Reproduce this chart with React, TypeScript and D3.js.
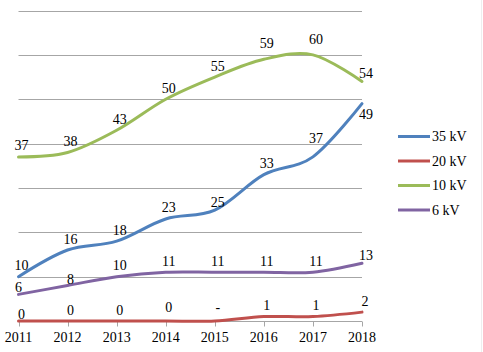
import { useRef, useEffect } from 'react';
import * as d3 from 'd3';

// data
const years = [2011, 2012, 2013, 2014, 2015, 2016, 2017, 2018];
const seriesNames = ['35 kV', '20 kV', '10 kV', '6 kV'];
const kv35 = [10, 16, 18, 23, 25, 33, 37, 49];
const kv20 = [0, 0, 0, 0, 0, 1, 1, 2];
const kv10 = [37, 38, 43, 50, 55, 59, 60, 54];
const kv6 = [6, 8, 10, 11, 11, 11, 11, 13];
const kv20Labels = ['0', '0', '0', '0', '-', '1', '1', '2'];
const yTicks = [0, 10, 20, 30, 40, 50, 60, 70];

const colors = ['#4F81BD', '#C0504D', '#9BBB59', '#8064A2'];

// hand-placed label nudges (dx, dy) like in the source sheet
const labelNudge: Record<string, [number, number]> = {
  '0-6': [0, -7],
  '0-7': [1, 22],
  '0-4': [0, 3],
  '1-0': [0, 4],
  '1-3': [0, -3],
  '1-4': [0, -3],
  '2-5': [0, -5],
  '2-6': [0, -4],
  '2-7': [1, 3],
  '3-0': [-3, 4],
  '3-1': [0, 5],
  '3-7': [1, 3],
};

const W = 483;
const H = 352;
const FONT = "'Liberation Serif', 'Times New Roman', serif";

export default function App() {
  const svgRef = useRef<SVGSVGElement>(null);

  useEffect(() => {
    if (!svgRef.current) return;
    const svg = d3.select(svgRef.current);
    svg.selectAll('*').remove();

    const margin = { top: 10.5, left: 18.5, right: 121, bottom: 31 };
    const x = d3.scaleLinear()
      .domain([years[0], years[years.length - 1]])
      .range([margin.left, W - margin.right]);
    const y = d3.scaleLinear()
      .domain([0, 70])
      .range([H - margin.bottom, margin.top]);

    // right border of chart area
    svg.append('line')
      .attr('x1', 481.5).attr('x2', 481.5)
      .attr('y1', 0).attr('y2', H)
      .attr('stroke', '#EEEEEE');

    // gridlines
    svg.append('g')
      .selectAll('line')
      .data(yTicks.slice(1))
      .join('line')
      .attr('x1', x(years[0]))
      .attr('x2', x(years[years.length - 1]))
      .attr('y1', (d) => Math.round(y(d)) + 0.5)
      .attr('y2', (d) => Math.round(y(d)) + 0.5)
      .attr('stroke', '#A6A6A6')
      .attr('stroke-width', 1);

    // x axis
    const baseY = Math.round(y(0)) + 0.5;
    svg.append('line')
      .attr('x1', x(years[0])).attr('x2', x(years[years.length - 1]))
      .attr('y1', baseY).attr('y2', baseY)
      .attr('stroke', '#A6A6A6');
    svg.append('g')
      .selectAll('line')
      .data(years)
      .join('line')
      .attr('x1', (d) => Math.round(x(d)) + 0.5)
      .attr('x2', (d) => Math.round(x(d)) + 0.5)
      .attr('y1', baseY)
      .attr('y2', baseY + 5)
      .attr('stroke', '#A6A6A6');
    svg.append('g')
      .selectAll('text')
      .data(years)
      .join('text')
      .attr('x', (d) => x(d))
      .attr('y', H - 10)
      .attr('text-anchor', 'middle')
      .attr('fill', '#000')
      .text((d) => String(d));

    const allSeries = [kv35, kv20, kv10, kv6];
    const line = d3.line<number>()
      .x((_, i) => x(years[i]))
      .y((d) => y(d))
      .curve(d3.curveCardinal.tension(0));

    // draw lines so 35 kV stays on top like the source
    [3, 2, 1, 0].forEach((si) => {
      svg.append('path')
        .datum(allSeries[si])
        .attr('d', line)
        .attr('fill', 'none')
        .attr('stroke', colors[si])
        .attr('stroke-width', 3)
        .attr('stroke-linecap', 'round')
        .attr('stroke-linejoin', 'round');
    });

    // data labels
    allSeries.forEach((vals, si) => {
      svg.append('g')
        .selectAll('text')
        .data(vals)
        .join('text')
        .attr('x', (d, i) => x(years[i]) + 3 + (labelNudge[`${si}-${i}`]?.[0] ?? 0))
        .attr('y', (d, i) => y(d) - 11 + (labelNudge[`${si}-${i}`]?.[1] ?? 0))
        .attr('text-anchor', 'middle')
        .attr('dominant-baseline', 'central')
        .attr('fill', '#000')
        .text((d, i) => (si === 1 ? kv20Labels[i] : String(d)));
    });

    // legend
    const legend = svg.append('g');
    seriesNames.forEach((name, i) => {
      const ly = 136.5 + i * 24.5;
      legend.append('line')
        .attr('x1', 398).attr('x2', 430)
        .attr('y1', ly).attr('y2', ly)
        .attr('stroke', colors[i])
        .attr('stroke-width', 3);
      legend.append('text')
        .attr('x', 432)
        .attr('y', ly)
        .attr('dominant-baseline', 'central')
        .attr('fill', '#000')
        .text(name);
    });
  }, []);

  return (
    <div style={{ position: 'absolute', left: 0, top: 0, background: '#fff' }}>
      <svg
        ref={svgRef}
        width={W}
        height={H}
        style={{ display: 'block', fontFamily: FONT, fontSize: 14 }}
      />
    </div>
  );
}
